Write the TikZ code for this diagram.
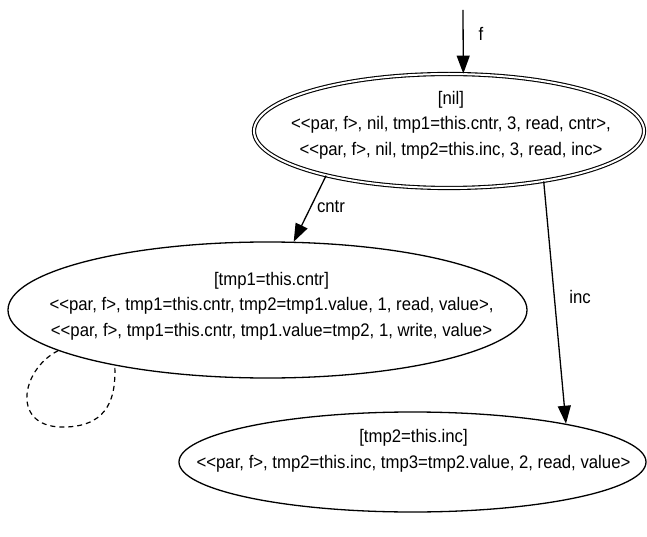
\documentclass[tikz,border=0pt]{standalone}
\usepackage{fontspec}
\setmainfont{Liberation Sans}[Ligatures=TeXOff, FakeStretch=0.92]
\usetikzlibrary{shapes.geometric,arrows.meta}
\tikzset{
  st/.style={ellipse, draw, line width=1.3bp, inner sep=0pt},
  txt/.style={align=center, inner sep=0pt, font=\fontsize{18.2bp}{25.5bp}\selectfont},
  lbl/.style={inner sep=0pt, font=\fontsize{18.2bp}{20bp}\selectfont},
  edge/.style={line width=1.3bp, -{Triangle[length=18bp,width=13bp]}},
  loopedge/.style={line width=1.2bp, dash pattern=on 5bp off 4bp}
}
\begin{document}
\begin{tikzpicture}[x=1bp,y=-1bp]
\useasboundingbox (0,0) rectangle (647,537);
% states
\node[st, line width=1.1bp, double, double distance=2bp, minimum width=390bp, minimum height=114bp] (nil) at (449,131) {};
\node[txt] (niltxt) at (451,125) {[nil]\\ <<par, f>, nil, tmp1=this.cntr, 3, read, cntr>,\\ <<par, f>, nil, tmp2=this.inc, 3, read, inc>};
\node[st, minimum width=519bp, minimum height=136bp] (cntr) at (267.5,310) {};
\node[txt] (cntrtxt) at (271.5,306) {[tmp1=this.cntr]\\ <<par, f>, tmp1=this.cntr, tmp2=tmp1.value, 1, read, value>,\\ <<par, f>, tmp1=this.cntr, tmp1.value=tmp2, 1, write, value>};
\node[st, minimum width=467bp, minimum height=100bp] (inc) at (412.5,462) {};
\node[txt] (inctxt) at (413.5,451) {[tmp2=this.inc]\\ <<par, f>, tmp2=this.inc, tmp3=tmp2.value, 2, read, value>};
% entry
\coordinate (start) at (463,10);
\draw[edge] (start) -- (nil.76);
\node[lbl] (flbl) at (481,34) {f};
% transitions
\draw[edge] (nil.200) -- (cntr.69);
\node[lbl] (cntrlbl) at (331,207) {cntr};
\draw[edge] (nil.332) -- (inc.14.5);
\node[lbl] (inclbl) at (580,297) {inc};
% self loop
\draw[loopedge] (cntr.191) .. controls (20,370) and (10,430) .. (67,427)
  .. controls (110,425) and (116,395) .. (cntr.200);
\end{tikzpicture}
\end{document}
